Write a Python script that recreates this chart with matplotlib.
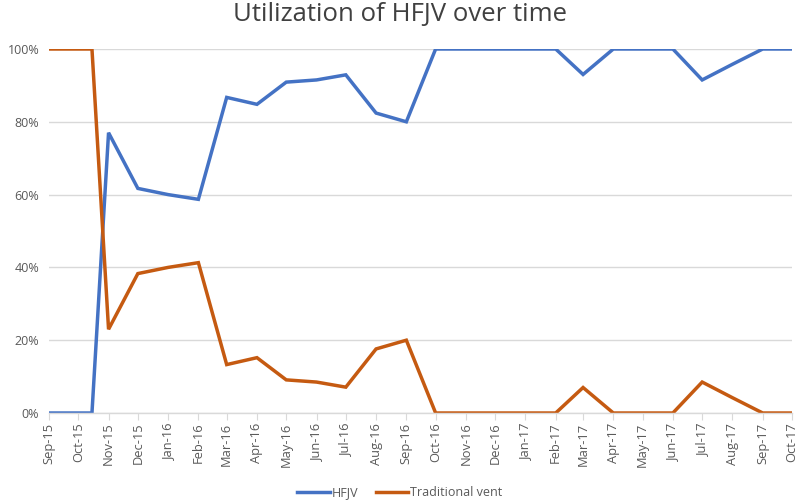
import matplotlib
matplotlib.use("Agg")
import matplotlib.pyplot as plt
import matplotlib.dates as mdates
from matplotlib.ticker import FuncFormatter, MultipleLocator
import pandas as pd

plt.rcParams['font.family'] = ['Open Sans', 'DejaVu Sans']

dates = ["2015-09-01", "2015-10-15", "2015-11-01", "2015-12-01", "2016-01-01",
         "2016-02-01", "2016-03-01", "2016-04-01", "2016-05-01", "2016-06-01",
         "2016-07-01", "2016-08-01", "2016-09-01", "2016-10-01", "2016-11-01",
         "2016-12-01", "2017-01-01", "2017-02-01", "2017-03-01", "2017-04-01",
         "2017-05-01", "2017-06-01", "2017-07-01", "2017-08-01", "2017-09-01",
         "2017-10-01"]
hfjv = [0, 0, 77, 61.7, 60, 58.7, 86.7, 84.8, 90.9, 91.5, 92.9, 82.4, 80,
        100, 100, 100, 100, 100, 93, 100, 100, 100, 91.5, 95.8, 100, 100]
traditional = [100, 100, 23, 38.3, 40, 41.3, 13.3, 15.2, 9.1, 8.5, 7.1, 17.6, 20,
               0, 0, 0, 0, 0, 7, 0, 0, 0, 8.5, 4.2, 0, 0]
tick_months = pd.date_range("2015-09-01", "2017-10-01", freq="MS")

x = pd.to_datetime(dates)

fig = plt.figure(figsize=(8, 5.01), dpi=100)
ax = fig.add_axes([49/800, 1-413/501, (792-49)/800, (413-49)/501])

ax.plot(x, hfjv, color="#4472C4", lw=2.5, label="HFJV", solid_joinstyle="miter")
ax.plot(x, traditional, color="#C55A11", lw=2.5, label="Traditional vent", solid_joinstyle="miter")

ax.set_xlim(tick_months[0], tick_months[-1])
ax.set_ylim(0, 100)
ax.yaxis.set_major_locator(MultipleLocator(20))
ax.yaxis.set_major_formatter(FuncFormatter(lambda v, p: f"{int(v)}%"))
ax.set_xticks(tick_months)
ax.xaxis.set_major_formatter(mdates.DateFormatter("%b-%y"))
for lab in ax.get_xticklabels():
    lab.set_rotation(90)

ax.grid(axis="y", color="#d9d9d9", lw=1)
ax.set_axisbelow(True)
for s in ["left", "right", "top"]:
    ax.spines[s].set_visible(False)
ax.spines["bottom"].set_color("#d9d9d9")
ax.spines["bottom"].set_linewidth(1)
ax.tick_params(axis="y", length=0, labelsize=9, labelcolor="#595959", pad=7)
ax.tick_params(axis="x", length=5, color="#d9d9d9", labelsize=9.3, labelcolor="#595959", pad=2)

fig.text(0.5, 1-15/501, "Utilization of HFJV over time", ha="center", va="center",
         fontsize=18.5, color="#404040")

fig.legend(loc="center", bbox_to_anchor=(0.5, 1-493/501), ncol=2, frameon=False,
           fontsize=9, labelcolor="#595959", handlelength=2.6, columnspacing=1.4,
           handletextpad=0.15)

fig.savefig("out.png", dpi=100)
